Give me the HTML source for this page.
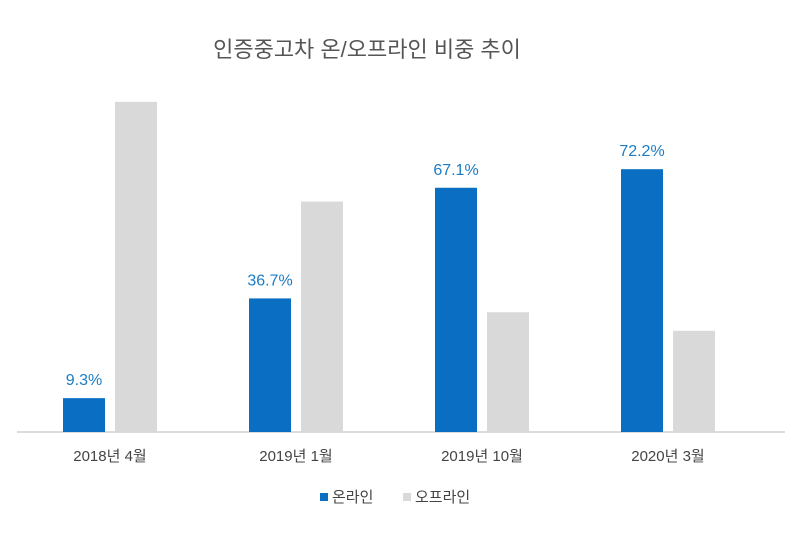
<!DOCTYPE html>
<html><head><meta charset="utf-8"><style>
body{margin:0;background:#fff;width:800px;height:528px;overflow:hidden;font-family:"Liberation Sans","Noto Sans CJK KR",sans-serif}
</style></head><body>
<svg id="c" width="800" height="528">
<text x="367" y="57" font-size="22" fill="#555" text-anchor="middle" font-family="Liberation Sans, Noto Sans CJK KR, sans-serif">인증중고차 온/오프라인 비중 추이</text>
<line x1="17" y1="432" x2="785" y2="432" stroke="#d0d0d0" stroke-width="1.5"/>
<g id="bars"></g>
<rect x="320" y="493" width="8" height="8" fill="#0a6fc2"/>
<text x="332" y="502" font-size="15" fill="#444">온라인</text>
<rect x="403" y="493" width="8" height="8" fill="#d9d9d9"/>
<text x="415" y="502" font-size="15" fill="#444">오프라인</text>
</svg>
<script>
const categories=["2018년 4월","2019년 1월","2019년 10월","2020년 3월"];
const online=[9.3,36.7,67.1,72.2];
const offline=[90.7,63.3,32.9,27.8];
const base=432, scale=3.64, x0=63, step=186, bw=42, gap=10;
const y=v=>base-v*scale;
const g=document.getElementById('bars');
const ns="http://www.w3.org/2000/svg";
function mk(t,a){const e=document.createElementNS(ns,t);for(const k in a)e.setAttribute(k,a[k]);g.appendChild(e);return e;}
categories.forEach((c,i)=>{
  const xo=x0+i*step, xf=xo+bw+gap;
  const r1=mk('rect',{x:xo,y:y(online[i]),width:bw,height:base-y(online[i]),fill:'#0a6fc2'});
  
  
  const r2=mk('rect',{x:xf,y:y(offline[i]),width:bw,height:base-y(offline[i]),fill:'#d9d9d9'});
  
  
  const t=mk('text',{x:xo+bw/2,y:y(online[i])-13,'font-size':16,fill:'#1a7cc4','text-anchor':'middle'});
  t.textContent=online[i].toFixed(1)+'%';
  
  
  const l=mk('text',{x:xo+(bw*2+gap)/2,y:461,'font-size':15,fill:'#444','text-anchor':'middle'});
  l.textContent=c;
  
  
});
</script>
</body></html>
